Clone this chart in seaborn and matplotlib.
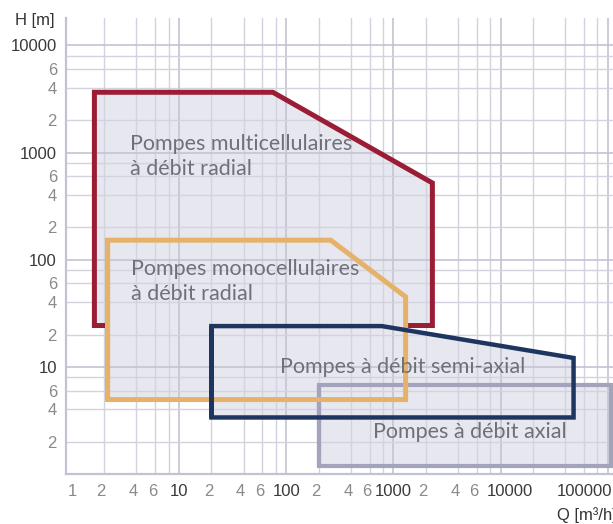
import pandas as pd
import seaborn as sns
from matplotlib import pyplot as plt
from matplotlib import ticker
from matplotlib.transforms import ScaledTranslation

# pump field outlines: corner points as (Q [m3/h], H [m])
# multicellular outline is open at the bottom where the monocellular field sits on it
multi_q = [2.15, 1.62, 1.62, 75, 2310, 2310, 1300]
multi_h = [24.3, 24.3, 3650, 3650, 520, 24.3, 24.3]
mono_q = [2.15, 2.15, 260, 1300, 1300, 2.15, 2.15]
mono_h = [4.95, 152, 152, 45, 4.95, 4.95, 152]
semi_q = [20, 20, 780, 48000, 48000, 20, 20]
semi_h = [3.37, 24, 24, 12.1, 3.37, 3.37, 24]
axial_q = [200, 200, 107000, 107000, 200, 200]
axial_h = [1.19, 6.8, 6.8, 1.19, 1.19, 6.8]

labels = ["Pompes multicellulaires\nà débit radial",
          "Pompes monocellulaires\nà débit radial",
          "Pompes à débit semi-axial",
          "Pompes à débit axial"]
label_q = [3.48, 3.55, 87, 640]
label_h = [916, 62.5, 10, 2.47]

x_decades = [1, 10, 100, 1000, 10000, 100000]
y_decades = [10, 100, 1000, 10000]

FILL = "#e7e7ef"
RED = "#9b1d35"
ORANGE = "#e6b26a"
BLUE = "#1e3560"
GREY = "#a3a3bb"
GRID = "#d3d3df"
GRID_DEC = "#c3c3d3"
TXT = "#707078"

sns.set_theme(style="white")
plt.rcParams["font.family"] = ["Liberation Sans", "DejaVu Sans"]

fig = plt.figure(figsize=(6.13, 5.24), dpi=100)
ax = fig.add_axes([66 / 613, 50 / 524, 547 / 613, 456 / 524])
ax.set_xscale("log")
ax.set_yscale("log")
ax.set_xlim(0.88, 1.12e5)
ax.set_ylim(1, 1.8e4)

fields = [
    (axial_q, axial_h, GREY, 3.0),
    (multi_q, multi_h, RED, 3.6),
    (mono_q, mono_h, ORANGE, 3.6),
    (semi_q, semi_h, BLUE, 3.2),
]
for i, (q, h, col, lw) in enumerate(fields):
    ax.fill(q, h, color=FILL, lw=0, zorder=0.2)
    df = pd.DataFrame({"Q": q, "H": h})
    sns.lineplot(data=df, x="Q", y="H", sort=False, estimator=None, color=col,
                 lw=lw, ax=ax, zorder=2 + i, solid_joinstyle="miter",
                 solid_capstyle="butt")

for txt, q, h in zip(labels, label_q, label_h):
    ax.text(q, h, txt, ha="left", va="center", fontsize=15.5, color=TXT,
            family=["Lato", "DejaVu Sans"], fontweight="normal",
            linespacing=1.35, zorder=10)

# ticks: decades dark, 2/4/6 grey, grid at 2/4/6/8
ax.xaxis.set_major_locator(ticker.FixedLocator(x_decades))
ax.yaxis.set_major_locator(ticker.FixedLocator(y_decades))
ax.xaxis.set_major_formatter(ticker.FuncFormatter(lambda v, p: f"{v:g}" if v < 1e5 else "100000"))
ax.yaxis.set_major_formatter(ticker.FuncFormatter(lambda v, p: f"{v:g}"))
subs = [2, 4, 6, 8]
ax.xaxis.set_minor_locator(ticker.LogLocator(base=10, subs=subs, numticks=30))
ax.yaxis.set_minor_locator(ticker.LogLocator(base=10, subs=subs, numticks=30))


def minor_fmt(v, pos, top=None):
    if top is not None and v > top:
        return ""
    lead = round(v / 10 ** int(f"{v:e}".split("e")[1]))
    return str(lead) if lead in (2, 4, 6) else ""


ax.xaxis.set_minor_formatter(ticker.FuncFormatter(lambda v, p: minor_fmt(v, p, top=9000)))
ax.yaxis.set_minor_formatter(ticker.FuncFormatter(minor_fmt))

ax.grid(which="major", color=GRID_DEC, lw=1.2)
ax.grid(which="minor", color=GRID, lw=1.0)
ax.set_axisbelow(True)

ax.tick_params(which="both", length=0, labelsize=12)
ax.tick_params(axis="x", which="both", pad=7)
ax.tick_params(axis="y", which="both", pad=6.5)
for lbl in ax.get_xticklabels() + ax.get_yticklabels():
    lbl.set_color("#3a3a3a")
for lbl in ax.get_xticklabels(minor=True) + ax.get_yticklabels(minor=True):
    lbl.set_color("#8a8a8a")

sns.despine(ax=ax)
for side in ["left", "bottom"]:
    ax.spines[side].set_color("#c2c2d2")
    ax.spines[side].set_linewidth(1.6)
ax.set_xlabel("")
ax.set_ylabel("")

xt = ax.xaxis.get_major_ticks()
xt[0].label1.set_color("#8a8a8a")
xt[0].gridline.set_visible(False)
shifts = [(xt[-2], 0.09), (xt[-1], -0.23)]
shifts += [(t, -0.03) for t in ax.xaxis.get_minor_ticks()]
for tick, dx in shifts:
    lbl = tick.label1
    lbl.set_transform(lbl.get_transform() + ScaledTranslation(dx, 0, fig.dpi_scale_trans))

fig.text(15 / 613, 1 - 21 / 524, "H [m]", ha="left", va="center", fontsize=12, color="#333333")
fig.text(557 / 613, 1 - 515 / 524, "Q [m³/h]", ha="left", va="center", fontsize=12, color="#333333")

fig.savefig("out.png", dpi=100)
